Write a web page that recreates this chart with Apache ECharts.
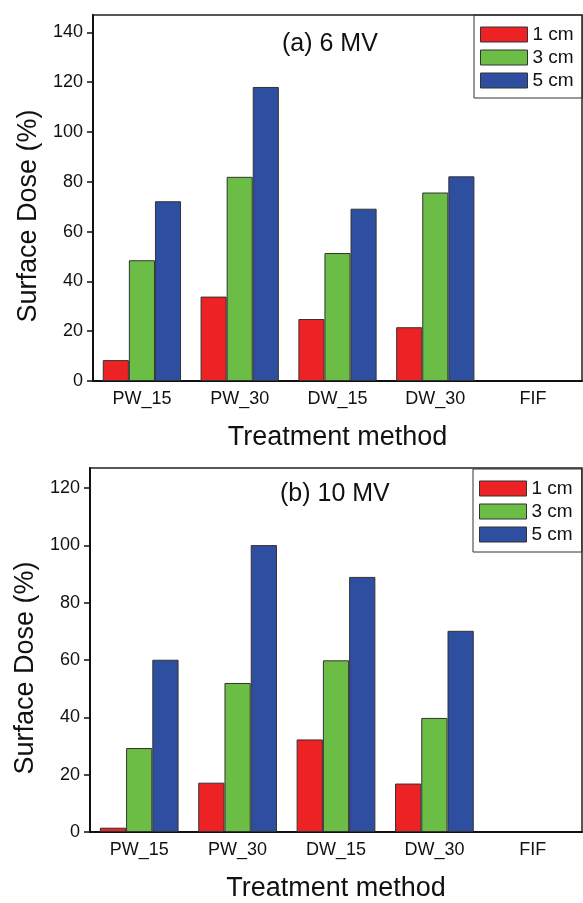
<!DOCTYPE html>
<html>
<head>
<meta charset="utf-8">
<script src="https://cdn.jsdelivr.net/npm/echarts@6/dist/echarts.min.js"></script>
<style>
  html, body { margin: 0; padding: 0; background: #fff; }
  #main { width: 583px; height: 903px; }
</style>
</head>
<body>
<div id="main"></div>
<script>
// categories and depth series
var categories = ['PW_15', 'PW_30', 'DW_15', 'DW_30', 'FIF'];
var depths = ['1 cm', '3 cm', '5 cm'];

// (a) 6 MV
var mv6_1cm = [8.4, 33.9, 24.9, 21.6, null];
var mv6_3cm = [48.5, 82.0, 51.4, 75.7, null];
var mv6_5cm = [72.2, 118.1, 69.2, 82.2, null];

// (b) 10 MV
var mv10_1cm = [1.5, 17.2, 32.3, 16.9, null];
var mv10_3cm = [29.3, 52.0, 59.9, 39.8, null];
var mv10_5cm = [60.1, 100.1, 89.0, 70.2, null];

// y tick labels
var ticks6 = [0, 20, 40, 60, 80, 100, 120, 140];
var ticks10 = [0, 20, 40, 60, 80, 100, 120];

var colors = ['#ED2224', '#6BBD45', '#2E4E9F'];
var font = 'Liberation Sans, Arial, sans-serif';

var myChart = echarts.init(document.getElementById('main'), null, { renderer: 'canvas' });

function xAxisOf(idx) {
    return {
        type: 'category',
        gridIndex: idx,
        data: categories,
        name: 'Treatment method',
        nameLocation: 'middle',
        nameGap: 43,
        nameTextStyle: { fontSize: 27, color: '#111', fontFamily: font },
        axisLine: { lineStyle: { color: '#111', width: 2 } },
        axisTick: { inside: true, alignWithLabel: true, length: 6, lineStyle: { color: '#111', width: 1.5 } },
        axisLabel: { fontSize: 18, color: '#111', margin: 9, fontFamily: font }
    };
}

function yAxisOf(idx, max, ticks) {
    return {
        type: 'value',
        gridIndex: idx,
        min: 0,
        max: max,
        name: 'Surface Dose (%)',
        nameLocation: 'middle',
        nameGap: 51,
        nameTextStyle: { fontSize: 27, color: '#111', fontFamily: font, padding: [0, 36, 0, 0] },
        axisLine: { show: true, lineStyle: { color: '#111', width: 2 } },
        axisTick: { show: true, inside: false, length: 6, customValues: ticks, lineStyle: { color: '#111', width: 1.5 } },
        axisLabel: { fontSize: 18, color: '#111', margin: 10, fontFamily: font, customValues: ticks },
        splitLine: { show: false }
    };
}

function barsOf(idx, lists) {
    var out = [];
    for (var i = 0; i < depths.length; i++) {
        out.push({
            name: depths[i],
            type: 'bar',
            xAxisIndex: idx,
            yAxisIndex: idx,
            data: lists[i],
            barGap: 0,
            barCategoryGap: '20%',
            itemStyle: { color: colors[i], borderColor: '#333', borderWidth: 1 }
        });
    }
    return out;
}

function legendOf(left, top) {
    return {
        data: depths,
        orient: 'vertical',
        left: left,
        top: top,
        itemWidth: 47,
        itemHeight: 15,
        itemGap: 4,
        itemTextGap: 2,
        padding: [10, 9, 8, 6],
        borderColor: '#333',
        borderWidth: 1,
        icon: 'rect',
        itemStyle: { borderColor: '#333', borderWidth: 1 },
        textStyle: { fontSize: 19, color: '#111', fontFamily: font },
        selectedMode: false
    };
}

myChart.setOption({
    color: colors,
    animation: false,
    title: [
        { text: '(a) 6 MV', left: 277, top: 27, textStyle: { fontSize: 25, fontWeight: 'normal', color: '#111', fontFamily: font } },
        { text: '(b) 10 MV', left: 275, top: 477, textStyle: { fontSize: 25, fontWeight: 'normal', color: '#111', fontFamily: font } }
    ],
    legend: [legendOf(474, 15), legendOf(473, 469)],
    grid: [
        { left: 93, top: 15, width: 489, height: 366, show: true, borderColor: '#222', borderWidth: 1.5 },
        { left: 90, top: 468, width: 492, height: 366, show: true, borderColor: '#222', borderWidth: 1.5 }
    ],
    xAxis: [xAxisOf(0), xAxisOf(1)],
    yAxis: [yAxisOf(0, 147, ticks6), yAxisOf(1, 127, ticks10)],
    series: barsOf(0, [mv6_1cm, mv6_3cm, mv6_5cm]).concat(barsOf(1, [mv10_1cm, mv10_3cm, mv10_5cm]))
});
</script>
</body>
</html>
